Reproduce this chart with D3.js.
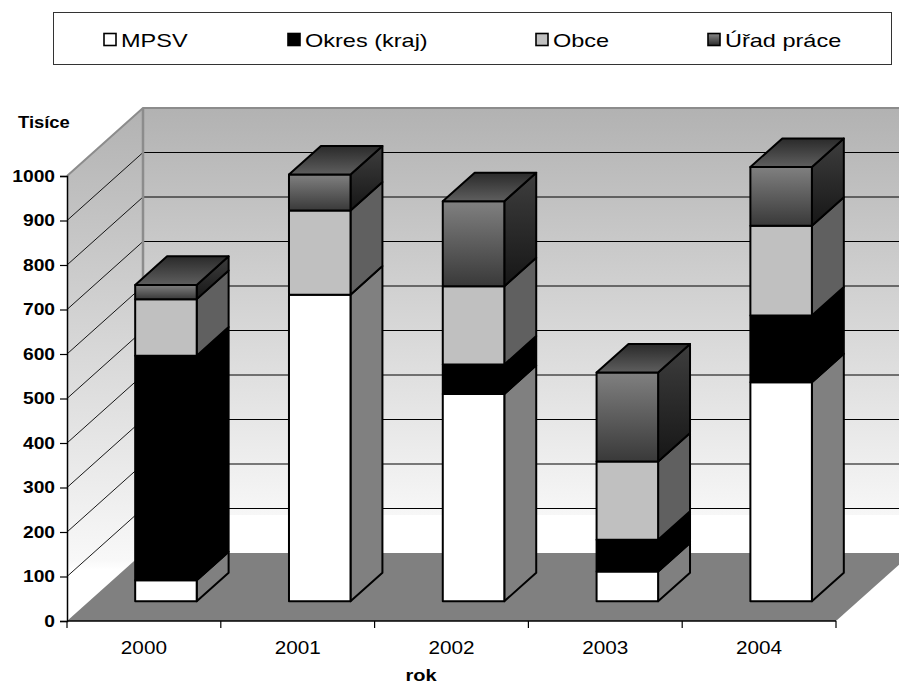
<!DOCTYPE html>
<html>
<head>
<meta charset="utf-8">
<script src="https://cdn.jsdelivr.net/npm/d3@7"></script>
<style>
  html, body { margin: 0; padding: 0; background: #fff; }
  svg { display: block; }
  text { font-family: "Liberation Sans", Arial, sans-serif; fill: #000; }
</style>
</head>
<body>
<svg id="chart" width="899" height="684"></svg>
<script>
// Years on the category axis
const years = ["2000", "2001", "2002", "2003", "2004"];
// Values in thousands, one array per funding source
const mpsv  = [47, 689, 466, 67, 492];
const okres = [505, 0, 66, 71, 150];
const obce  = [127, 189, 176, 176, 202];
const urad  = [32, 81, 191, 200, 132];
const seriesNames = ["MPSV", "Okres (kraj)", "Obce", "Úřad práce"];
const yTicks = [0, 100, 200, 300, 400, 500, 600, 700, 800, 900, 1000];

const svg = d3.select("#chart");
const defs = svg.append("defs");

// Oblique projection of the 3D box: depth z in [0,1]
const DX = 76, DY = 68;
const x = d3.scaleBand().domain(years).range([67, 836]).padding(0);
const y = d3.scaleLinear().domain([0, 1000]).range([621, 176]);
const P = (px, v, z) => [px + z * DX, y(v) - z * DY];
const poly = pts => pts.map(p => p.join(",")).join(" ");

// Stretch text horizontally to the wide lettering of the chart
function stretch(sel, k) {
  sel.each(function () {
    const w = this.getComputedTextLength();
    d3.select(this).attr("textLength", w * k).attr("lengthAdjust", "spacingAndGlyphs");
  });
}

function linGrad(id, stops, x1, y1, x2, y2, units) {
  const g = defs.append("linearGradient").attr("id", id)
    .attr("x1", x1).attr("y1", y1).attr("x2", x2).attr("y2", y2);
  if (units) g.attr("gradientUnits", units);
  stops.forEach(s => g.append("stop").attr("offset", s[0]).attr("stop-color", s[1]));
}
linGrad("wallGrad", [[0, "#b2b2b2"], [0.915, "#f7f7f7"], [0.915, "#ffffff"], [1, "#ffffff"]], 0, y(1000) - DY, 0, y(0) - DY, "userSpaceOnUse");
linGrad("sideWallGrad", [[0, "#b2b2b2"], [0.88, "#f8f8f8"], [0.9, "#ffffff"], [1, "#ffffff"]], 0, y(1000) - DY, 0, y(0), "userSpaceOnUse");
linGrad("uradFront", [[0, "#808080"], [1, "#393939"]], 0, 0, 0, 1);
linGrad("uradSide", [[0, "#3e3e3e"], [1, "#161616"]], 0, 0, 0, 1);
linGrad("uradTop", [[0, "#2a2a2a"], [1, "#5e5e5e"]], 0, 0, 0, 1);
linGrad("uradSwatch", [[0, "#8a8a8a"], [1, "#2a2a2a"]], 0, 0, 0, 1);

const faces = [
  { front: "#ffffff", side: "#808080", top: "#9a9a9a" },
  { front: "#000000", side: "#000000", top: "#000000" },
  { front: "#c0c0c0", side: "#606060", top: "#a0a0a0" },
  { front: "url(#uradFront)", side: "url(#uradSide)", top: "url(#uradTop)" }
];
const swatchFill = ["#ffffff", "#000000", "#c0c0c0", "url(#uradSwatch)"];

const x0 = x.range()[0], x1 = x.range()[1];

// Back wall, side wall, floor
const walls = svg.append("g");
walls.append("polygon")
  .attr("points", poly([P(x0, 0, 1), P(x1, 0, 1), P(x1, 1000, 1), P(x0, 1000, 1)]))
  .attr("fill", "url(#wallGrad)");
walls.append("polygon")
  .attr("points", poly([P(x0, 0, 0), P(x0, 0, 1), P(x0, 1000, 1), P(x0, 1000, 0)]))
  .attr("fill", "url(#sideWallGrad)");

// Gridlines on back and side walls
const gridVals = yTicks.filter(v => v > 0 && v < 1000);
walls.selectAll("line.gb").data(gridVals).join("line")
  .attr("x1", P(x0, 0, 1)[0]).attr("x2", P(x1, 0, 1)[0])
  .attr("y1", d => P(x0, d, 1)[1]).attr("y2", d => P(x0, d, 1)[1])
  .attr("stroke", "#000").attr("stroke-width", 1);
walls.selectAll("line.gs").data(gridVals).join("line")
  .attr("x1", P(x0, 0, 0)[0]).attr("x2", P(x0, 0, 1)[0])
  .attr("y1", d => P(x0, d, 0)[1]).attr("y2", d => P(x0, d, 1)[1])
  .attr("stroke", "#000").attr("stroke-width", 0.9);

walls.append("polygon")
  .attr("points", poly([P(x0, 0, 0), P(x1, 0, 0), P(x1, 0, 1), P(x0, 0, 1)]))
  .attr("fill", "#808080");

// Wall edges
walls.append("polyline")
  .attr("points", poly([P(x0, 1000, 0), P(x0, 1000, 1), P(x1, 1000, 1)]))
  .attr("fill", "none").attr("stroke", "#8c8c8c").attr("stroke-width", 2);
walls.append("line")
  .attr("x1", P(x0, 0, 1)[0]).attr("x2", P(x0, 0, 1)[0])
  .attr("y1", P(x0, 0, 1)[1]).attr("y2", P(x0, 1000, 1)[1])
  .attr("stroke", "#8c8c8c").attr("stroke-width", 2.5);

// Stacked columns
const stackData = years.map((yr, i) => ({ year: yr, v: [mpsv[i], okres[i], obce[i], urad[i]] }));
const bw = x.bandwidth();
const z0 = 0.29, z1 = 0.71;
const bars = svg.append("g")
  .attr("stroke", "#000").attr("stroke-width", 2).attr("stroke-linejoin", "round");

stackData.forEach(d => {
  const bx0 = x(d.year) + bw * 0.3, bx1 = bx0 + bw * 0.4;
  let base = 0;
  const g = bars.append("g");
  const segs = [];
  d.v.forEach((val, s) => {
    if (val > 0) segs.push({ s, lo: base, hi: base + val });
    base += val;
  });
  segs.forEach(seg => {
    g.append("polygon")
      .attr("points", poly([P(bx1, seg.lo, z0), P(bx1, seg.lo, z1), P(bx1, seg.hi, z1), P(bx1, seg.hi, z0)]))
      .attr("fill", faces[seg.s].side);
    g.append("polygon")
      .attr("points", poly([P(bx0, seg.lo, z0), P(bx1, seg.lo, z0), P(bx1, seg.hi, z0), P(bx0, seg.hi, z0)]))
      .attr("fill", faces[seg.s].front);
  });
  const top = segs[segs.length - 1];
  g.append("polygon")
    .attr("points", poly([P(bx0, top.hi, z0), P(bx1, top.hi, z0), P(bx1, top.hi, z1), P(bx0, top.hi, z1)]))
    .attr("fill", faces[top.s].top);
});

// Value axis
const yAxis = svg.append("g").attr("transform", `translate(${x0},0)`)
  .call(d3.axisLeft(y).tickValues(yTicks).tickSize(7).tickPadding(5).tickFormat(d3.format("d")));
yAxis.select(".domain").attr("stroke", "#000").attr("stroke-width", 1.5);
yAxis.selectAll(".tick line").attr("stroke", "#000").attr("stroke-width", 1.2);
yAxis.selectAll(".tick text")
  .attr("font-family", "Liberation Sans, Arial, sans-serif")
  .attr("font-size", 16).attr("font-weight", "bold").attr("fill", "#000")
  .call(stretch, 1.2);

// Category axis: line along the floor front and ticks at band boundaries
const xAxis = svg.append("g");
xAxis.append("line").attr("x1", x0).attr("x2", x1).attr("y1", y(0)).attr("y2", y(0))
  .attr("stroke", "#000").attr("stroke-width", 1.5);
const bounds = years.map(yr => x(yr)).concat([x1]);
xAxis.selectAll("line.t").data(bounds).join("line")
  .attr("x1", d => d).attr("x2", d => d).attr("y1", y(0)).attr("y2", y(0) + 7)
  .attr("stroke", "#000").attr("stroke-width", 1.2);
xAxis.selectAll("text").data(years).join("text")
  .attr("x", d => x(d) + bw / 2).attr("y", 654)
  .attr("text-anchor", "middle").attr("font-size", 18)
  .text(d => d)
  .call(stretch, 1.15);

// Axis titles
svg.append("text").attr("x", 18).attr("y", 128)
  .attr("font-size", 16).attr("font-weight", "bold").text("Tisíce")
  .call(stretch, 1.15);
svg.append("text").attr("x", 421).attr("y", 681).attr("text-anchor", "middle")
  .attr("font-size", 16).attr("font-weight", "bold").text("rok")
  .call(stretch, 1.25);

// Legend
const legend = svg.append("g");
legend.append("rect").attr("x", 53.5).attr("y", 12.5).attr("width", 838).attr("height", 52)
  .attr("fill", "#fff").attr("stroke", "#333").attr("stroke-width", 1);
const legendX = [104, 288, 536, 708];
const items = legend.selectAll("g.item").data(seriesNames).join("g")
  .attr("transform", (d, i) => `translate(${legendX[i]},0)`);
items.append("rect").attr("x", 0).attr("y", 33.5).attr("width", 12).attr("height", 12)
  .attr("fill", (d, i) => swatchFill[i]).attr("stroke", "#000").attr("stroke-width", 1.6);
items.append("text").attr("x", 17).attr("y", 46.5).attr("font-size", 18.5)
  .text(d => d)
  .call(stretch, 1.27);
</script>
</body>
</html>
